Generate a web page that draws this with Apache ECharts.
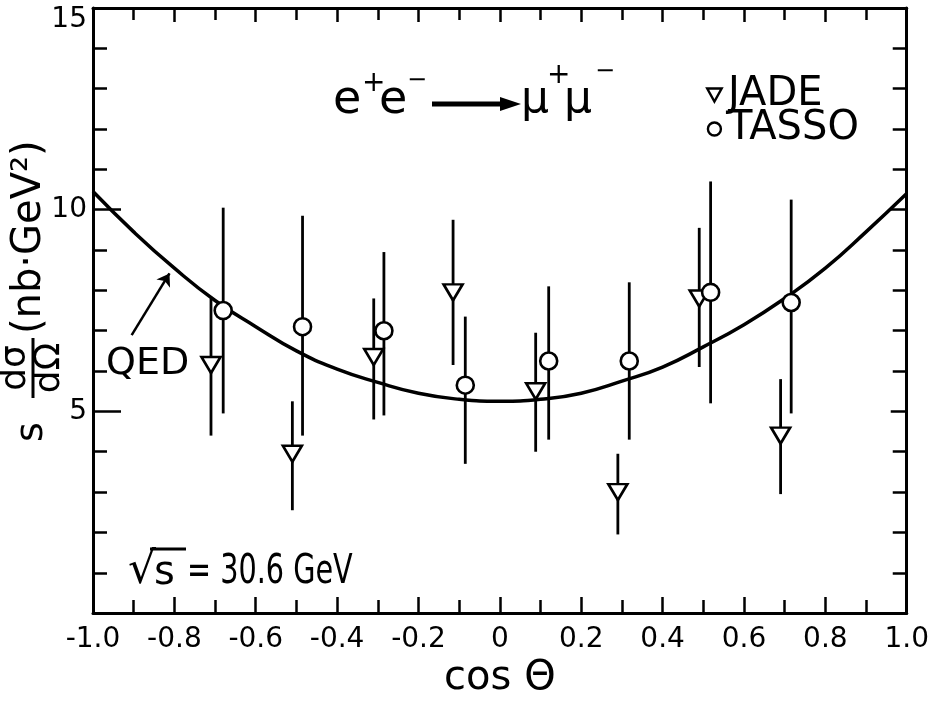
<!DOCTYPE html>
<html>
<head>
<meta charset="utf-8">
<script src="https://cdn.jsdelivr.net/npm/echarts@6/dist/echarts.min.js"></script>
<style>
  html, body { margin: 0; padding: 0; background: #fff; }
  #chart { width: 932px; height: 704px; }
</style>
</head>
<body>
<div id="chart"></div>
<script>
// QED curve, every 0.1 in cos(theta)
const qedX = [-1.0, -0.9, -0.8, -0.7, -0.6, -0.5, -0.4, -0.3, -0.2, -0.1, 0.0, 0.1, 0.2, 0.3, 0.4, 0.5, 0.6, 0.7, 0.8, 0.9, 1.0]
const qedY = [10.45, 9.45, 8.55, 7.75, 7.1, 6.5, 6.05, 5.72, 5.45, 5.3, 5.25, 5.3, 5.45, 5.75, 6.1, 6.6, 7.15, 7.8, 8.55, 9.45, 10.4]

// JADE points (open down triangles)
const jadeX = [-0.71, -0.51, -0.31, -0.115, 0.088, 0.29, 0.49, 0.69]
const jadeY = [6.15, 3.95, 6.35, 7.95, 5.5, 3.0, 7.8, 4.4]
const jadeLo = [4.4, 2.55, 4.8, 6.15, 4.0, 1.95, 6.1, 2.95]
const jadeHi = [7.8, 5.25, 7.8, 9.75, 6.95, 3.95, 9.55, 5.8]

// TASSO points (open circles)
const tassoX = [-0.68, -0.485, -0.285, -0.085, 0.12, 0.318, 0.518, 0.716]
const tassoY = [7.5, 7.1, 7.0, 5.65, 6.25, 6.25, 7.95, 7.7]
const tassoLo = [4.95, 4.4, 4.9, 3.7, 4.3, 4.3, 5.2, 4.95]
const tassoHi = [10.05, 9.85, 8.95, 7.35, 8.1, 8.2, 10.7, 10.25]

// axis ticks
const xMin = -1, xMax = 1, xStep = 0.2
const yMin = 0, yMax = 15, yStep = 5

const font = 'DejaVu Sans'
const ink = '#000'

const chart = echarts.init(document.getElementById('chart'), null, { renderer: 'canvas' })

function xLabel(v) {
  if (Math.abs(v) < 1e-9) return '0'
  return v.toFixed(1)
}

function yLabel(v) {
  if (v === yMin) return ''
  if (v === yMax) return '{top|' + v + '}'
  return String(v)
}

function baseAxis(extra) {
  return Object.assign({
    type: 'value',
    axisLine: { onZero: false, lineStyle: { color: ink, width: 3 } },
    splitLine: { show: false },
    minorSplitLine: { show: false },
  }, extra)
}

const xAxisCommon = { min: xMin, max: xMax, interval: xStep }
const yAxisCommon = { min: yMin, max: yMax, interval: yStep }

function errorBars(xs, lo, hi) {
  return {
    type: 'custom',
    silent: true,
    z: 2,
    data: xs.map((x, i) => [x, lo[i], hi[i]]),
    encode: { x: 0, y: [1, 2] },
    renderItem(params, api) {
      const a = api.coord([api.value(0), api.value(1)])
      const b = api.coord([api.value(0), api.value(2)])
      return {
        type: 'line',
        shape: { x1: a[0], y1: a[1], x2: b[0], y2: b[1] },
        style: { stroke: ink, lineWidth: 2.8 },
      }
    },
  }
}

const hollow = { color: '#fff', borderColor: ink, borderWidth: 2.6, opacity: 1 }

function glyph(text, x, y, size) {
  return { type: 'text', x, y, style: { text, font: size + 'px ' + font, fill: ink, verticalAlign: 'middle' } }
}

chart.setOption({
  animation: false,
  backgroundColor: '#fff',
  textStyle: { fontFamily: font, color: ink },
  grid: { left: 93, right: 21, top: 8, bottom: 81 },
  legend: {
    data: [
      { name: 'JADE', icon: 'path://M0,0 L20,0 L10,18 Z' },
      { name: 'TASSO', icon: 'circle' },
    ],
    orient: 'vertical',
    left: 701,
    top: 70,
    itemWidth: 17,
    itemHeight: 13,
    itemGap: -6,
    itemStyle: { borderWidth: 2.4 },
    textStyle: { fontFamily: font, fontSize: 40, color: ink },
  },
  xAxis: [
    baseAxis(Object.assign({}, xAxisCommon, {
      position: 'bottom',
      name: 'cos Θ',
      nameLocation: 'middle',
      nameGap: 42,
      nameTextStyle: { fontFamily: font, fontSize: 40, color: ink },
      axisTick: { inside: true, length: 16, lineStyle: { color: ink, width: 2.5 } },
      minorTick: { show: true, splitNumber: 2, length: 13, lineStyle: { color: ink, width: 2.5 } },
      axisLabel: { fontFamily: font, fontSize: 28, color: ink, margin: 13, formatter: xLabel },
    })),
    baseAxis(Object.assign({}, xAxisCommon, {
      position: 'top',
      axisTick: { inside: true, length: 14, lineStyle: { color: ink, width: 2.5 } },
      minorTick: { show: true, splitNumber: 2, length: 12, lineStyle: { color: ink, width: 2.5 } },
      axisLabel: { show: false },
    })),
  ],
  yAxis: [
    baseAxis(Object.assign({}, yAxisCommon, {
      position: 'left',
      axisTick: { inside: true, length: 28, lineStyle: { color: ink, width: 2.5 } },
      minorTick: { show: true, splitNumber: 5, length: 14, lineStyle: { color: ink, width: 2.5 } },
      axisLabel: {
        fontFamily: font, fontSize: 28, color: ink, margin: 6, formatter: yLabel,
        rich: { top: { fontFamily: font, fontSize: 28, color: ink, padding: [24, 0, 0, 0] } },
      },
    })),
    baseAxis(Object.assign({}, yAxisCommon, {
      position: 'right',
      axisTick: { inside: true, length: 16, lineStyle: { color: ink, width: 2.5 } },
      minorTick: { show: true, splitNumber: 5, length: 14, lineStyle: { color: ink, width: 2.5 } },
      axisLabel: { show: false },
    })),
  ],
  series: [
    errorBars(jadeX, jadeLo, jadeHi),
    errorBars(tassoX, tassoLo, tassoHi),
    {
      name: 'QED',
      type: 'line',
      z: 3,
      smooth: true,
      showSymbol: false,
      silent: true,
      data: qedX.map((x, i) => [x, qedY[i]]),
      lineStyle: { color: ink, width: 3.5 },
      markLine: {
        silent: true,
        symbol: ['none', 'arrow'],
        symbolSize: 12,
        label: { show: false },
        lineStyle: { color: ink, width: 2.5, type: 'solid' },
        data: [[{ coord: [-0.905, 6.89] }, { coord: [-0.812, 8.42] }]],
      },
    },
    {
      name: 'JADE',
      type: 'scatter',
      z: 4,
      symbol: 'triangle',
      symbolRotate: 180,
      symbolSize: [19, 16],
      itemStyle: hollow,
      data: jadeX.map((x, i) => [x, jadeY[i]]),
    },
    {
      name: 'TASSO',
      type: 'scatter',
      z: 4,
      symbol: 'circle',
      symbolSize: 17,
      itemStyle: hollow,
      data: tassoX.map((x, i) => [x, tassoY[i]]),
    },
  ],
  graphic: [
    // reaction title e+ e- --> mu+ mu-
    glyph('e', 333, 101, 46),
    glyph('+', 362, 84, 28),
    glyph('e', 379, 101, 46),
    glyph('−', 407, 81, 24),
    { type: 'line', shape: { x1: 432, y1: 104, x2: 506, y2: 104 }, style: { stroke: ink, lineWidth: 5 } },
    { type: 'polygon', shape: { points: [[500, 97], [521, 104], [500, 111]] }, style: { fill: ink } },
    glyph('μ', 521, 101, 44),
    glyph('+', 547, 76, 28),
    glyph('μ', 564, 101, 44),
    glyph('−', 595, 72, 24),
    // QED label
    { type: 'text', x: 106, y: 364, style: { text: 'QED', font: '38px ' + font, fill: ink, verticalAlign: 'middle' } },
    // sqrt(s) = 30.6 GeV
    { type: 'text', x: 128, y: 572, style: { text: '√', font: '44px ' + font, fill: ink, verticalAlign: 'middle' } },
    { type: 'line', shape: { x1: 150, y1: 549, x2: 186, y2: 549 }, style: { stroke: ink, lineWidth: 3 } },
    { type: 'text', x: 154, y: 574, style: { text: 's', font: '40px ' + font, fill: ink, verticalAlign: 'middle' } },
    { type: 'text', x: 187, y: 572, scaleX: 0.7, style: { text: '= 30.6 GeV', font: '41px ' + font, fill: ink, verticalAlign: 'middle' } },
    // y axis title, drawn rotated
    {
      type: 'group', x: 32, y: 446, rotation: Math.PI / 2,
      children: [
        { type: 'text', x: 4, y: 0, style: { text: 's', font: '38px ' + font, fill: ink, verticalAlign: 'middle' } },
        { type: 'text', x: 78, y: -16, style: { text: 'dσ', font: '36px ' + font, fill: ink, align: 'center', verticalAlign: 'middle' } },
        { type: 'line', shape: { x1: 48, y1: 1, x2: 108, y2: 1 }, style: { stroke: ink, lineWidth: 3 } },
        { type: 'text', x: 78, y: 18, style: { text: 'dΩ', font: '36px ' + font, fill: ink, align: 'center', verticalAlign: 'middle' } },
        { type: 'text', x: 112, y: -2, style: { text: '(nb·GeV²)', font: '40px ' + font, fill: ink, verticalAlign: 'middle' } },
      ],
    },
  ],
})
</script>
</body>
</html>
